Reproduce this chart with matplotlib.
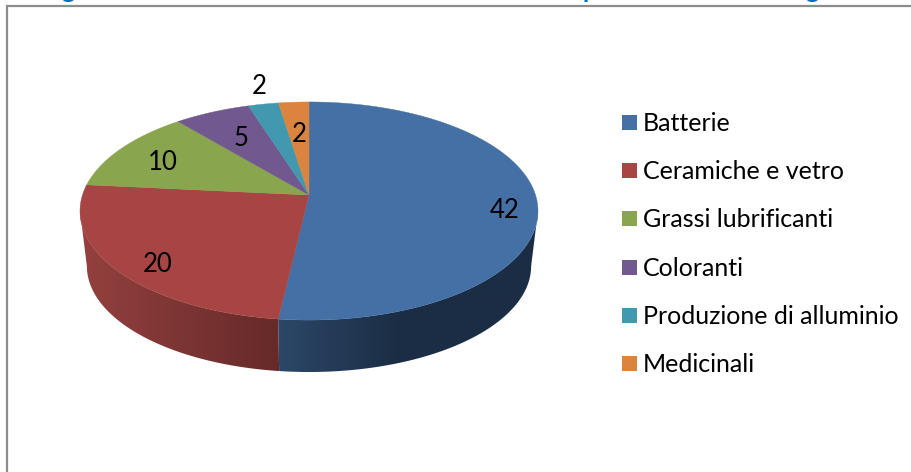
import matplotlib
matplotlib.use("Agg")
import matplotlib.pyplot as plt
from matplotlib.colors import to_rgb
from matplotlib.patches import Polygon
import numpy as np

categorie = ["Batterie", "Ceramiche e vetro", "Grassi lubrificanti", "Coloranti",
             "Produzione di alluminio", "Medicinali"]
valori = [42, 20, 10, 5, 2, 2]
colori = ["#4470A5", "#A64544", "#89A54E", "#71588F", "#4198AF", "#DB843D"]

# posizione delle etichette (pixel)
etichette_x = [505, 158, 163, 241, 259, 299]
etichette_y = [211, 264, 163, 139, 87, 134]

plt.rcParams["font.family"] = ["Lato", "DejaVu Sans"]

fig = plt.figure(figsize=(9.12, 4.72), dpi=100)
ax = fig.add_axes([0, 0, 1, 1])
ax.axis("off")

# torta in prospettiva: il cerchio viene proiettato
k = 0.1468
cx = 309
bordo = np.arccos(-k)  # punto piu largo della proiezione


def proietta(theta, a, b, y0):
    u = np.sin(theta)
    v = np.cos(theta)
    w = 1 + k * v
    return cx + a * u / w, y0 - b * v / w


def sopra(theta):
    return proietta(theta, 226.5, 106.7, 195)


def sotto(theta):
    return proietta(theta, 219.7, 103.5, 250.7)


def fianco(t1, t2, col1, col2, x1, x2):
    # fianco con sfumatura orizzontale, ritagliata sul profilo
    tt = np.linspace(t1, t2, 200)
    xa, ya = sopra(tt)
    xb, yb = sotto(tt[::-1])
    profilo = Polygon(np.c_[np.r_[xa, xb], np.r_[ya, yb]], closed=True, transform=ax.transData,
                      fc="none", ec="none")
    ax.add_patch(profilo)
    xs = np.arange(60, 560)
    f = np.clip((xs - x1) / (x2 - x1), 0, 1)[None, :, None]
    img = np.array(to_rgb(col1))[None, None, :] * (1 - f) + np.array(to_rgb(col2))[None, None, :] * f
    im = ax.imshow(img, extent=(60, 560, 400, 150), aspect="auto", interpolation="bilinear", zorder=2)
    im.set_clip_path(profilo)


angoli = np.radians(np.cumsum([0] + valori) / sum(valori) * 360)

fianco(bordo, angoli[1], "#2C4768", "#1B2D44", 278, 400)
fianco(angoli[1], 2 * np.pi - bordo, "#652A29", "#93403E", 278, 85)

ax.set_xlim(0, 912)
ax.set_ylim(472, 0)

for i in range(len(valori)):
    tt = np.linspace(angoli[i], angoli[i + 1], 200)
    xs, ys = sopra(tt)
    ax.fill(np.r_[cx, xs], np.r_[195, ys], color=colori[i], lw=0.3, zorder=3)

for i in range(len(valori)):
    ax.text(etichette_x[i], etichette_y[i], str(valori[i]), fontsize=18.5, color="black",
            ha="center", va="center", zorder=5)

# legenda
for i in range(len(categorie)):
    y = 122.5 + i * 48.2
    ax.add_patch(plt.Rectangle((622, y - 7.5), 15, 15, color=colori[i], lw=0, zorder=4))
    ax.text(643, y + 1, categorie[i], fontsize=18, color="black", ha="left", va="center", zorder=5)

# cornice, tagliata a destra e in basso
ax.plot([7.5, 7.5, 912], [472, 5.5, 5.5], color="#8C8C8C", lw=1.6, solid_joinstyle="miter", zorder=1)

# titolo tagliato in alto: restano solo le parti discendenti
for lettera, x in zip(["g", "p", "g"], [68, 590, 812]):
    ax.text(x, -2, lettera, fontsize=18, fontweight="bold", color="#0070C0", ha="center", va="baseline",
            clip_on=False)

fig.savefig("out.png", dpi=100, facecolor="white")
